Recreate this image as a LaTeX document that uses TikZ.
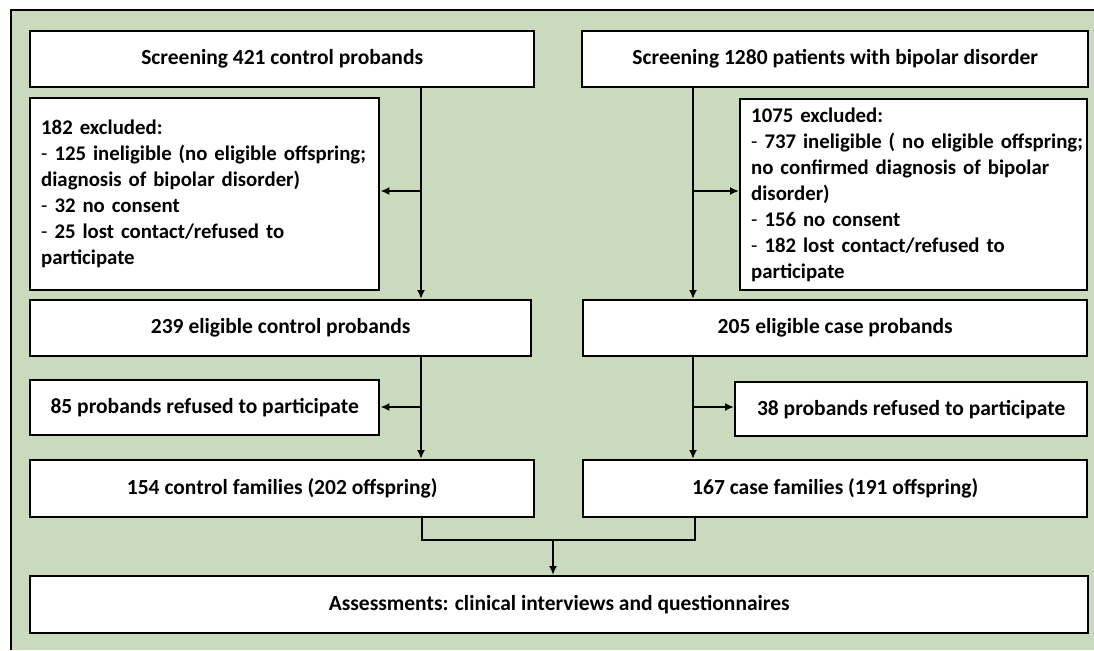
\documentclass[tikz,border=0pt]{standalone}
\usepackage{fontspec}
\setmainfont{Carlito}
\usetikzlibrary{arrows.meta,calc}
\definecolor{panelgreen}{HTML}{C9DABD}
\tikzset{
  box/.style={draw=black, fill=white, line width=2.4pt, anchor=north west, inner sep=0pt,
    font=\fontsize{21.5}{26}\selectfont\bfseries, align=center},
  exbox/.style={box, align=left, inner xsep=11pt, font=\fontsize{20.8}{26}\selectfont\bfseries},
  conn/.style={line width=2pt, draw=black},
  arr/.style={conn, -{Latex[length=9pt,width=8pt]}},
}
\newcommand{\hy}{{\mdseries -}}
\newcommand{\oneline}[1]{\mbox{#1}}
\begin{document}
\begin{tikzpicture}[x=1pt,y=-1pt]
\useasboundingbox (0,0) rectangle (1094,650);
\fill[white] (0,0) rectangle (1094,650);
\fill[panelgreen] (11,10) rectangle (1094,650);
\draw[line width=2.6pt] (11,650) -- (11,10) -- (1094,10);

\node[box, minimum width=504pt, minimum height=56pt] (sc) at (29,30) {Screening 421 control probands};
\node[box, minimum width=506pt, minimum height=56pt] (sp) at (581,30) {Screening 1280 patients with bipolar disorder};

\node[exbox, minimum width=349pt, minimum height=192pt, text width=327pt] (exl) at (29,97)
  {\oneline{182 excluded:}\\ \oneline{\hy{} 125 ineligible (no eligible offspring;}\\ \oneline{diagnosis of bipolar disorder)}\\ \oneline{\hy{} 32 no consent}\\ \oneline{\hy{} 25 lost contact/refused to}\\ \oneline{participate}};
\node[exbox, minimum width=347pt, minimum height=191pt, text width=325pt] (exr) at (739,98)
  {\oneline{1075 excluded:}\\ \oneline{\hy{} 737 ineligible ( no eligible offspring;}\\ \oneline{no confirmed diagnosis of bipolar}\\ \oneline{disorder)}\\ \oneline{\hy{} 156 no consent}\\ \oneline{\hy{} 182 lost contact/refused to}\\ \oneline{participate}};

\node[box, minimum width=501pt, minimum height=56pt] (ec) at (29,299) {239 eligible control probands};
\node[box, minimum width=504pt, minimum height=56pt] (ecase) at (582,299) {205 eligible case probands};

\node[box, minimum width=349pt, minimum height=55pt] (rl) at (29,379) {85 probands refused to participate};
\node[box, minimum width=352pt, minimum height=54pt] (rr) at (734,381) {38 probands refused to participate};

\node[box, minimum width=504pt, minimum height=57pt] (cf) at (29,459) {154 control families (202 offspring)};
\node[box, minimum width=504pt, minimum height=57pt] (casef) at (582,459) {167 case families (191 offspring)};

\node[box, minimum width=1058pt, minimum height=57pt] (as) at (29,575) {Assessments: clinical interviews and questionnaires};

% column coordinates
\coordinate (cl) at (421,0);
\coordinate (cr) at (693,0);
\coordinate (b1) at (0,191);
\coordinate (b2) at (0,407);

\draw[arr] (sc.south -| cl) -- (ec.north -| cl);
\draw[arr] (b1 -| cl) -- (exl.east |- b1);
\draw[arr] (sp.south -| cr) -- (ecase.north -| cr);
\draw[arr] (b1 -| cr) -- (exr.west |- b1);

\draw[arr] (ec.south -| cl) -- (cf.north -| cl);
\draw[arr] (b2 -| cl) -- (rl.east |- b2);
\draw[arr] (ecase.south -| cr) -- (casef.north -| cr);
\draw[arr] (b2 -| cr) -- (rr.west |- b2);

\coordinate (ml) at (422,540);
\coordinate (mr) at (695,540);
\coordinate (mc) at (553,540);
\draw[conn] (cf.south -| ml) -- (ml) -- (mr) -- (casef.south -| mr);
\draw[arr] (mc) -- (as.north -| mc);
\end{tikzpicture}
\end{document}
